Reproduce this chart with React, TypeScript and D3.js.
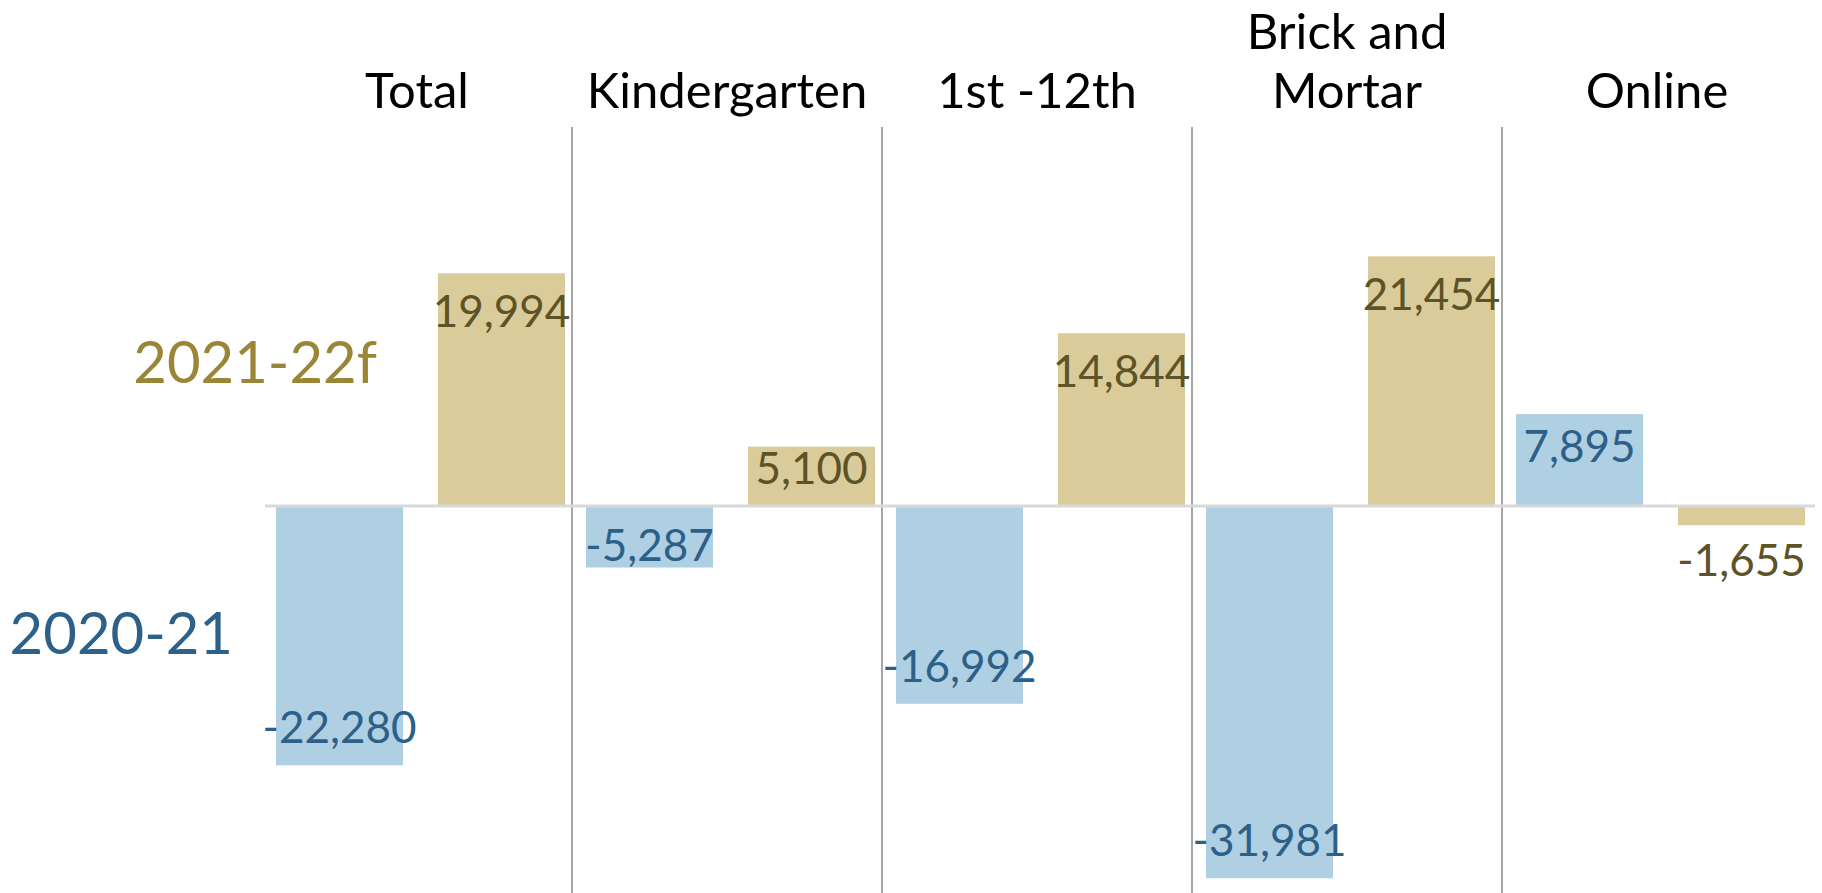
import React, { useEffect, useRef } from 'react'
import * as d3 from 'd3'

// chart data
const categories = ['Total', 'Kindergarten', '1st -12th', 'Brick and Mortar', 'Online']
const categoryLines = [['Total'], ['Kindergarten'], ['1st -12th'], ['Brick and', 'Mortar'], ['Online']]
const seriesNames = ['2020-21', '2021-22f']
const values2020 = [-22280, -5287, -16992, -31981, 7895]
const values2021 = [19994, 5100, 14844, 21454, -1655]

const W = 1822
const H = 893
const font = 'Lato, "Noto Sans", sans-serif'

const barColor: Record<string, string> = { '2020-21': '#afcfe3', '2021-22f': '#d9cc9a' }
const valueColor: Record<string, string> = { '2020-21': '#2d6088', '2021-22f': '#5d5327' }
const seriesColor: Record<string, string> = { '2020-21': '#2e6189', '2021-22f': '#9b8638' }

export default function App() {
    const ref = useRef<SVGSVGElement>(null)

    useEffect(() => {
        const svg = d3.select(ref.current)
        svg.selectAll('*').remove()

        const top = 127
        const x0 = d3.scaleBand().domain(categories).range([262, 1812])
        const x1 = d3.scaleBand().domain(seriesNames).range([14, 303]).paddingInner(0.216)
        const y = d3.scaleLinear().domain([-33250, 32560]).range([H, top])
        const fmt = d3.format(',')

        const rows = categories.map((c, i) => ({
            cat: c,
            items: [
                { s: seriesNames[0], v: values2020[i] },
                { s: seriesNames[1], v: values2021[i] },
            ],
        }))

        // separators between categories
        svg.append('g')
            .selectAll('line')
            .data(categories.slice(1))
            .enter().append('line')
            .attr('x1', d => x0(d)!)
            .attr('x2', d => x0(d)!)
            .attr('y1', top)
            .attr('y2', H)
            .attr('stroke', '#a6a6a6')
            .attr('stroke-width', 2)

        const group = svg.append('g')
            .selectAll('g')
            .data(rows)
            .enter().append('g')
            .attr('transform', d => 'translate(' + x0(d.cat) + ',0)')

        group.selectAll('rect')
            .data(d => d.items)
            .enter().append('rect')
            .attr('x', d => x1(d.s)!)
            .attr('width', x1.bandwidth())
            .attr('y', d => y(Math.max(0, d.v)))
            .attr('height', d => Math.abs(y(d.v) - y(0)))
            .attr('fill', d => barColor[d.s])

        // zero line
        svg.append('line')
            .attr('x1', 265)
            .attr('x2', 1815)
            .attr('y1', y(0))
            .attr('y2', y(0))
            .attr('stroke', '#d9d9d9')
            .attr('stroke-width', 3)

        // value labels
        group.selectAll('text.val')
            .data(d => d.items)
            .enter().append('text')
            .attr('class', 'val')
            .attr('x', d => x1(d.s)! + x1.bandwidth() / 2)
            .attr('y', d => {
                const h = Math.abs(y(d.v) - y(0))
                const dir = d.v >= 0 ? 1 : -1
                if (h < 30) return y(d.v) + dir * -35
                const off = Math.min(38, Math.max(22, h * 0.35))
                return y(d.v) + dir * off
            })
            .attr('dy', '0.36em')
            .attr('text-anchor', 'middle')
            .attr('font-family', font)
            .attr('font-size', 44)
            .attr('fill', d => valueColor[d.s])
            .text(d => fmt(d.v).replace('−', '-'))

        // category titles
        svg.append('g')
            .selectAll('text')
            .data(categories)
            .enter().append('text')
            .attr('x', d => x0(d)! + x0.bandwidth() / 2)
            .attr('y', 108)
            .attr('text-anchor', 'middle')
            .attr('font-family', font)
            .attr('font-size', 49)
            .attr('fill', '#000')
            .each(function (d, i) {
                const lines = categoryLines[i]
                const t = d3.select(this)
                lines.forEach((ln, j) => {
                    t.append('tspan')
                        .attr('x', x0(d)! + x0.bandwidth() / 2)
                        .attr('y', 108 - (lines.length - 1 - j) * 59)
                        .text(ln)
                })
            })

        // series labels on the left
        const seriesPos = [
            { s: '2021-22f', x: 377, y: 383 },
            { s: '2020-21', x: 233, y: 654 },
        ]
        svg.append('g')
            .selectAll('text')
            .data(seriesPos)
            .enter().append('text')
            .attr('x', d => d.x)
            .attr('y', d => d.y)
            .attr('text-anchor', 'end')
            .attr('font-family', font)
            .attr('font-size', 58)
            .attr('fill', d => seriesColor[d.s])
            .text(d => d.s)
    }, [])

    return (
        <div style={{ position: 'absolute', left: 0, top: 0 }}>
            <svg ref={ref} width={W} height={H} style={{ display: 'block', background: '#fff' }} />
        </div>
    )
}
